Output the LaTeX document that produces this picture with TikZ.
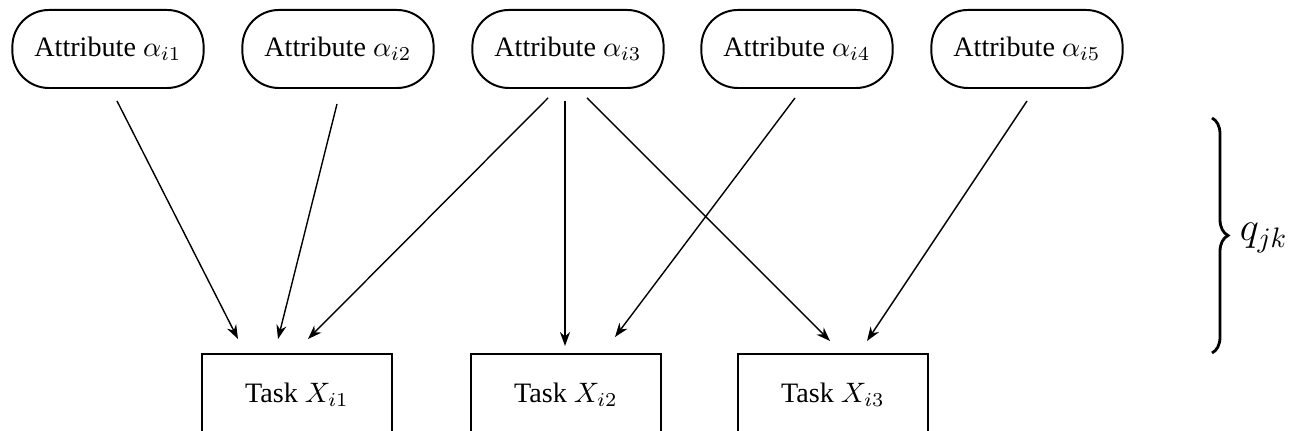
\documentclass[tikz,border=0pt]{standalone}
\usepackage{fontspec}
\setmainfont{Liberation Serif}
\usetikzlibrary{arrows.meta,calc,decorations.pathreplacing}
\tikzset{
  attr/.style={draw, line width=0.7pt, rounded corners=13pt, minimum width=2.39cm, minimum height=0.975cm, inner sep=0pt},
  task/.style={draw, line width=0.7pt, minimum width=2.375cm, minimum height=1.025cm, inner sep=0pt},
  link/.style={-{Stealth[length=5pt,width=3.6pt]}, line width=0.5pt},
}
\begin{document}
\begin{tikzpicture}[x=0.0125cm,y=-0.0125cm]
      \useasboundingbox (0,0) rectangle (1292,431);
      \draw
        (108,49) node[attr] (a1){Attribute $\alpha_{i1}$}
        (338,49) node[attr] (a2){Attribute $\alpha_{i2}$}
        (568,49) node[attr] (a3){Attribute $\alpha_{i3}$}
        (797,49) node[attr] (a4){Attribute $\alpha_{i4}$}
        (1027,49) node[attr] (a5){Attribute $\alpha_{i5}$}
        (297,395) node[task] (x1){Task $X_{i1}$}
        (566,395) node[task] (x2){Task $X_{i2}$}
        (833,395) node[task] (x3){Task $X_{i3}$};
      \begin{scope}[link]
        \draw ($(a1.south)+(9,12)$) to ($(x1.north)+(-59,-14)$);
        \draw ($(a2.south)+(-1,15)$) to ($(x1.north)+(-19,-14)$);
        \draw ($(a3.south)+(-20,9)$) to ($(x1.north)+(11,-14)$);
        \draw ($(a3.south)+(-3,12)$) to ($(x2.north)+(-1,-7)$);
        \draw ($(a3.south)+(19,9)$) to ($(x3.north)+(-3,-12)$);
        \draw ($(a4.south)+(-2,9)$) to ($(x2.north)+(49,-16)$);
        \draw ($(a5.south)+(0,12)$) to ($(x3.north)+(34,-12)$);
      \end{scope}
      \draw[decorate, decoration={brace, amplitude=0.2cm}, line width=1pt]
        (1212,118) coordinate (btop) -- (1212,353) coordinate (bbot);
      \node[anchor=west] (q) at (1230,238) {\Large $q_{jk}$};
    \end{tikzpicture}
\end{document}
